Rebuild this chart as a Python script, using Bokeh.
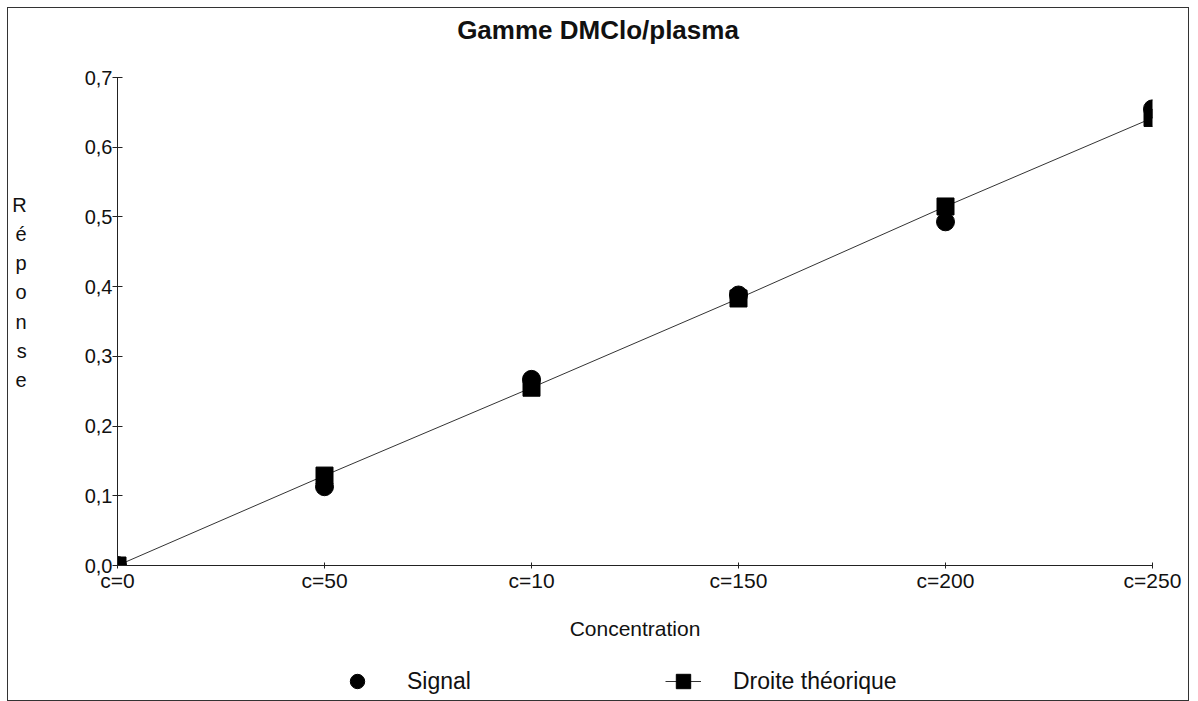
from bokeh.plotting import figure
from bokeh.layouts import column
from bokeh.models import (Range1d, FixedTicker, CustomJSTickFormatter,
                          Legend, LegendItem, Div)
from bokeh.embed import file_html
from bokeh.resources import INLINE

title_text = "Gamme DMClo/plasma"
categories = ["c=0", "c=50", "c=10", "c=150", "c=200", "c=250"]
signal = [0.0, 0.113, 0.267, 0.388, 0.493, 0.655]
droite = [0.0, 0.129, 0.255, 0.383, 0.515, 0.642]
y_ticks = [0.0, 0.1, 0.2, 0.3, 0.4, 0.5, 0.6, 0.7]

xs = list(range(len(categories)))
FONT = "Liberation Sans"

title_div = Div(
    text=('<div style="width:1180px;height:44px;line-height:44px;'
          'text-align:center;font-family:\'Liberation Sans\';font-size:26px;'
          'font-weight:bold;color:#111;white-space:nowrap;">'
          + title_text + '</div>'),
    width=1180, height=44, margin=0)

p = figure(width=1180, height=606, output_backend="svg", toolbar_location=None,
           x_range=Range1d(0, len(categories) - 1),
           y_range=Range1d(0, 0.7),
           min_border_left=109, min_border_right=36,
           min_border_top=25, min_border_bottom=93)
p.title.visible = False
p.outline_line_color = None
p.xgrid.visible = False
p.ygrid.visible = False
p.background_fill_color = "white"

xa = p.xaxis[0]
xa.ticker = FixedTicker(ticks=xs)
xa.major_label_overrides = {i: c for i, c in enumerate(categories)}
xa.axis_label = "Concentration"
xa.axis_label_text_font = FONT
xa.axis_label_text_font_style = "normal"
xa.axis_label_text_font_size = "21px"
xa.axis_label_text_color = "#111"
xa.axis_label_standoff = 22
xa.major_label_text_font = FONT
xa.major_label_text_font_size = "21px"
xa.major_label_text_color = "#111"
xa.major_label_standoff = 0
xa.major_tick_in = 3
xa.major_tick_out = 3
xa.minor_tick_line_color = None
xa.axis_line_color = "#222"
xa.major_tick_line_color = "#222"

ya = p.yaxis[0]
ya.ticker = FixedTicker(ticks=y_ticks)
ya.formatter = CustomJSTickFormatter(code="return tick.toFixed(1).replace('.', ',');")
ya.major_label_text_font = FONT
ya.major_label_text_font_size = "20px"
ya.major_label_text_color = "#111"
ya.major_label_standoff = 0
ya.major_tick_in = 5
ya.major_tick_out = 5
ya.minor_tick_line_color = None
ya.axis_line_color = "#222"
ya.major_tick_line_color = "#222"
ya.axis_label = "R\né\np\no\nn\ns\ne\n\n"
ya.axis_label_orientation = "horizontal"
ya.axis_label_text_font = FONT
ya.axis_label_text_font_style = "normal"
ya.axis_label_text_font_size = "20px"
ya.axis_label_text_color = "#111"
ya.axis_label_text_line_height = 1.32
ya.axis_label_standoff = 55

p.line(xs, droite, line_color="#333", line_width=1)
p.scatter(xs, droite, marker="square", size=17, fill_color="black",
          line_color="black")
p.scatter(xs, signal, marker="circle", size=18, fill_color="black",
          line_color="black")

# legend strip below the chart (its renderers lie outside the visible range)
lf = figure(width=1180, height=42, output_backend="svg", toolbar_location=None,
            x_range=Range1d(100, 101), y_range=Range1d(100, 101),
            x_axis_location=None, y_axis_location=None,
            min_border_left=0, min_border_right=0,
            min_border_top=0, min_border_bottom=0)
lf.grid.visible = False
lf.outline_line_color = None
lg_ci = lf.scatter(xs, signal, marker="circle", size=18, fill_color="black",
                   line_color="black")
lg_ln = lf.line(xs, droite, line_color="#333", line_width=1)
lg_sq = lf.scatter(xs, droite, marker="square", size=17, fill_color="black",
                   line_color="black")
legend = Legend(items=[LegendItem(label="Signal", renderers=[lg_ci]),
                       LegendItem(label="Droite théorique", renderers=[lg_ln, lg_sq])],
                orientation="horizontal", location=(222, 1),
                label_text_font=FONT, label_text_font_size="23px",
                label_text_color="#111",
                glyph_width=36, glyph_height=36, label_standoff=32,
                label_width=248, spacing=10,
                border_line_color=None, padding=2, margin=0,
                background_fill_alpha=0)
lf.add_layout(legend)

layout = column(title_div, p, lf, spacing=0)
layout.styles = {"border": "1px solid #333", "margin": "7px 0 0 7px"}

open("out.html", "w").write(file_html(layout, INLINE))
